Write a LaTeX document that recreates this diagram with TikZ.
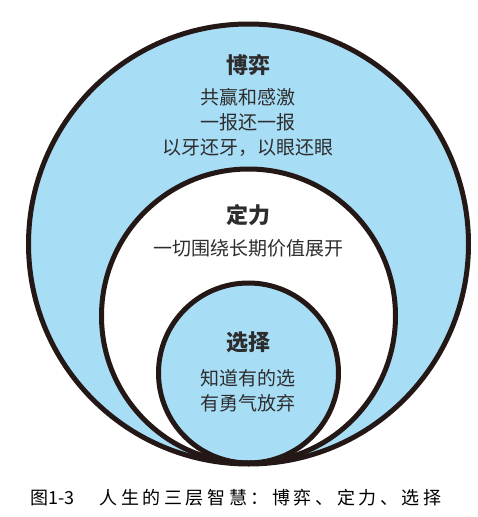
\documentclass[tikz,border=0pt]{standalone}
\usepackage{fontspec}
\setmainfont{Noto Sans CJK SC}
\newfontfamily\capfont[LetterSpace=20]{Noto Sans CJK SC}
\definecolor{ringblue}{RGB}{168,221,246}
\definecolor{ringline}{RGB}{35,24,21}
\definecolor{ringtext}{RGB}{45,45,45}
\tikzset{
	ring/.style={draw=ringline, line width=5pt},
	ringtitle/.style={font=\fontsize{22}{24}\selectfont\bfseries, text=ringtext, inner sep=0pt},
	ringbody/.style={font=\fontsize{19}{25}\selectfont, text=ringtext, align=center, inner sep=0pt},
}

\begin{document}
\begin{tikzpicture}[x=1pt, y=-1pt]
			%%%%% START %%%%%
			\useasboundingbox (0, 0) rectangle (478, 517);
			
			% fills first, outlines on top
			\fill[ringblue] (248.5, 244) circle (220);
			\fill[white] (248.5, 316) circle (147);
			\fill[ringblue] (248.5, 373) circle (90);
			
			\draw[ring] (248.5, 244) circle (220);
			\draw[ring] (248.5, 316) circle (147);
			\draw[ring] (248.5, 373) circle (90);
			
			\node[ringtitle] (boyi) at (248, 65) {博弈};
			\node[ringbody] (boyitext) at (248, 122) {共赢和感激\\一报还一报\\以牙还牙，以眼还眼};
			
			\node[ringtitle] (dingli) at (248, 215) {定力};
			\node[ringbody] (dinglitext) at (248, 248) {一切围绕长期价值展开};
			
			\node[ringtitle] (xuanze) at (248, 342) {选择};
			\node[ringbody] (xuanzetext) at (248, 390.5) {知道有的选\\有勇气放弃};
			
			\node[anchor=west, inner sep=0pt, font=\fontsize{18}{20}\selectfont] (caption) at (30, 498) {图1-3\hspace{25pt}{\capfont 人生的三层智慧：博弈、定力、选择}};
			
			%%%%% END %%%%%
\end{tikzpicture}
\end{document}
